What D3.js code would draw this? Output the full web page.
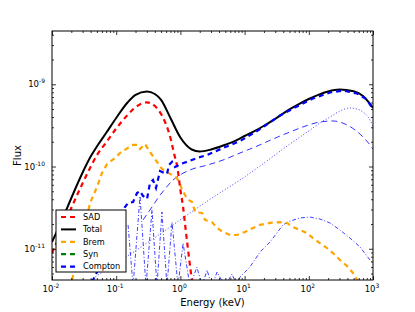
<!DOCTYPE html>
<html>
<head>
<meta charset="utf-8">
<script src="https://cdn.jsdelivr.net/npm/d3@7"></script>
<style>
  body { margin: 0; background: #fff; }
  svg { display: block; }
  text { font-family: "DejaVu Sans", sans-serif; }
</style>
</head>
<body>
<div id="chart"></div>
<script>
// ---- data (energy in keV, flux) ----
const totalE = [0.01, 0.015, 0.02, 0.03, 0.04, 0.05, 0.07, 0.1, 0.15, 0.2, 0.3, 0.4, 0.5, 0.7, 1, 1.5, 2, 3, 5, 7, 10, 15, 20, 30, 50, 70, 100, 150, 200, 300, 500, 700, 1000];
const totalF = [1.21e-11, 2.43e-11, 4.14e-11, 8.45e-11, 1.32e-10, 1.75e-10, 2.57e-10, 3.89e-10, 6.00e-10, 7.45e-10, 8.19e-10, 7.62e-10, 6.48e-10, 3.89e-10, 2.25e-10, 1.61e-10, 1.52e-10, 1.61e-10, 1.84e-10, 2.04e-10, 2.35e-10, 2.75e-10, 3.13e-10, 3.80e-10, 4.95e-10, 5.74e-10, 6.62e-10, 7.60e-10, 8.19e-10, 8.65e-10, 8.24e-10, 7.21e-10, 5.15e-10];

const sadE = [0.01, 0.015, 0.02, 0.03, 0.04, 0.05, 0.07, 0.1, 0.15, 0.2, 0.3, 0.4, 0.5, 0.7, 0.8, 0.9, 1, 1.1, 1.2, 1.3, 1.4, 1.5, 1.6];
const sadF = [8.87e-12, 1.82e-11, 3.13e-11, 6.27e-11, 9.93e-11, 1.37e-10, 1.97e-10, 2.89e-10, 4.23e-10, 5.26e-10, 6.03e-10, 5.44e-10, 4.35e-10, 2.22e-10, 1.42e-10, 9.59e-11, 5.18e-11, 3.22e-11, 1.79e-11, 1.05e-11, 6.53e-12, 4.29e-12, 2.74e-12];

const bremE = [0.0205, 0.0273, 0.0327, 0.0391, 0.0502, 0.0601, 0.072, 0.08, 0.0957, 0.1145, 0.1422, 0.183, 0.211, 0.235, 0.281, 0.336, 0.432, 0.516, 0.618, 0.74, 0.885, 1.06, 1.27, 1.52, 1.69, 2.17, 2.42, 3.1, 3.72, 4.61, 5.93, 7.62, 10.1, 13.5, 17.4, 24.9, 35.6, 45.7, 56.7, 72.9, 93.7, 116, 149, 192, 238, 306, 394, 488, 583];
const bremF = [4.17e-12, 1.02e-11, 1.95e-11, 3.6e-11, 5.64e-11, 8.34e-11, 1.07e-10, 1.14e-10, 1.27e-10, 1.46e-10, 1.63e-10, 1.83e-10, 1.83e-10, 1.63e-10, 1.88e-10, 1.5e-10, 1.14e-10, 9.33e-11, 8.57e-11, 7.89e-11, 7.24e-11, 5.33e-11, 4.03e-11, 3.7e-11, 2.8e-11, 2.72e-11, 2.24e-11, 2.11e-11, 1.79e-11, 1.6e-11, 1.47e-11, 1.47e-11, 1.6e-11, 1.79e-11, 1.95e-11, 2.06e-11, 2.11e-11, 2.06e-11, 1.84e-11, 1.69e-11, 1.55e-11, 1.35e-11, 1.17e-11, 1.02e-11, 8.87e-12, 7.3e-12, 6.17e-12, 5.07e-12, 4.06e-12];

// Syn does not reach the plotted flux range
const synE = [];
const synF = [];

const compE = [0.0364, 0.0502, 0.0669, 0.086, 0.107, 0.137, 0.153, 0.183, 0.211, 0.235, 0.262, 0.302, 0.336, 0.374, 0.417, 0.481, 0.556, 0.618, 0.664, 0.74, 0.824, 0.986, 1.27, 1.81, 2.6, 4.61, 8.48, 15.6, 35.6, 65.5, 116, 214, 341, 563, 807, 1000];
const compF = [3.15e-12, 5.21e-12, 9.12e-12, 1.35e-11, 1.89e-11, 3.22e-11, 3.6e-11, 3.7e-11, 4.76e-11, 5.04e-11, 4.38e-11, 4.03e-11, 6.31e-11, 6.86e-11, 5.48e-11, 8.81e-11, 8.34e-11, 8.11e-11, 1.04e-10, 1.14e-10, 9.86e-11, 1.07e-10, 1.14e-10, 1.27e-10, 1.38e-10, 1.68e-10, 2.04e-10, 2.7e-10, 4.17e-10, 5.37e-10, 6.71e-10, 7.94e-10, 8.4e-10, 7.73e-10, 6.53e-10, 4.93e-10];

// Compton scattering orders (thin blue lines)
const comp1E = [0.2615, 0.361, 0.448, 0.575, 0.74, 0.986, 1.41, 2.6, 4.61, 8.48, 15.6, 27.7, 50.9, 81.2, 149, 238, 394, 628, 898, 1000];
const comp1F = [2.24e-11, 3.22e-11, 4.14e-11, 5.33e-11, 6.67e-11, 7.89e-11, 9.08e-11, 1.04e-10, 1.2e-10, 1.46e-10, 1.77e-10, 2.16e-10, 2.63e-10, 3.03e-10, 3.48e-10, 3.58e-10, 3.2e-10, 2.48e-10, 1.83e-10, 1.63e-10];

const comp2E = [0.0364, 0.08, 0.176, 0.481, 1.41, 3.46, 8.48, 22.3, 50.9, 81.2, 116, 149, 214, 306, 438, 563, 698, 836, 1000];
const comp2F = [3.94e-12, 6e-12, 8.87e-12, 1.51e-11, 2.72e-11, 4.38e-11, 6.86e-11, 1.17e-10, 1.88e-10, 2.42e-10, 2.94e-10, 3.38e-10, 4e-10, 4.73e-10, 5.15e-10, 5e-10, 4.6e-10, 4e-10, 3.11e-10];

const comp3E = [0.153, 0.183, 0.235, 0.291, 0.361, 0.432, 0.516, 0.618, 0.74, 0.918, 1.1, 1.41, 1.81, 2.17, 2.6, 3.1, 3.72, 4.95, 6.37, 7.62, 8.48, 12.1, 17.4, 24.9, 39.6, 50.9, 72.9, 104, 149, 214, 306, 438, 628, 898, 1000];
const comp3F = [1.95e-11, 3.5e-12, 4.38e-11, 3.5e-12, 2.96e-11, 3.5e-12, 2.8e-11, 3.5e-12, 2.11e-11, 3.5e-12, 1.17e-11, 3.5e-12, 6e-12, 3.5e-12, 5.52e-12, 3.5e-12, 5.21e-12, 3.5e-12, 4.93e-12, 3.5e-12, 4.53e-12, 6e-12, 9.12e-12, 1.21e-11, 1.95e-11, 2.17e-11, 2.37e-11, 2.43e-11, 2.3e-11, 2.06e-11, 1.69e-11, 1.35e-11, 1.05e-11, 7.3e-12, 6.71e-12];

const xTickExps = [-2, -1, 0, 1, 2, 3];
const yTickExps = [-11, -10, -9];
const legendNames = ['SAD', 'Total', 'Brem', 'Syn', 'Compton'];

// ---- layout ----
const W = 415, H = 312;
const m = { top: 31, right: 42, bottom: 32, left: 52 };

const x = d3.scaleLog().domain([1e-2, 1e3]).range([m.left, W - m.right]);
const y = d3.scaleLog().domain([Math.pow(10, -11.38), Math.pow(10, -8.352)]).range([H - m.bottom, m.top]);

const svg = d3.select('#chart').append('svg')
  .attr('width', W)
  .attr('height', H);

svg.append('defs').append('clipPath').attr('id', 'plot-clip')
  .append('rect')
  .attr('x', m.left).attr('y', m.top)
  .attr('width', W - m.left - m.right)
  .attr('height', H - m.top - m.bottom);

const zip = (E, F) => E.map((e, i) => [e, F[i]]);
const line = d3.line().x(d => x(d[0])).y(d => y(d[1]));

const series = [
  { data: zip(comp2E, comp2F), color: '#0000ff', width: 1, dash: '1,2', opacity: 0.75, curve: d3.curveMonotoneX },
  { data: zip(comp3E, comp3F), color: '#0000ff', width: 1, dash: '4,2,1,2', opacity: 0.75, curve: d3.curveLinear },
  { data: zip(comp1E, comp1F), color: '#0000ff', width: 1, dash: '6,4', opacity: 0.8, curve: d3.curveMonotoneX },
  { data: zip(bremE, bremF), color: '#ffa500', width: 2.2, dash: '5,4', opacity: 1, curve: d3.curveLinear },
  { data: zip(synE, synF), color: '#008000', width: 2.2, dash: '5,4', opacity: 1, curve: d3.curveLinear },
  { data: zip(sadE, sadF), color: '#ff0000', width: 2.2, dash: '5,4', opacity: 1, curve: d3.curveMonotoneX },
  { data: zip(totalE, totalF), color: '#000000', width: 2, dash: null, opacity: 1, curve: d3.curveMonotoneX },
  { data: zip(compE, compF), color: '#0000ff', width: 2.2, dash: '5,4', opacity: 1, curve: d3.curveLinear }
];

const plot = svg.append('g').attr('clip-path', 'url(#plot-clip)');
series.forEach(s => {
  if (!s.data.length) return;
  plot.append('path')
    .datum(s.data)
    .attr('fill', 'none')
    .attr('stroke', s.color)
    .attr('stroke-width', s.width)
    .attr('stroke-opacity', s.opacity)
    .attr('stroke-dasharray', s.dash)
    .attr('d', line.curve(s.curve));
});

// ---- axes: inward ticks on all four sides ----
const minorOf = (exps, dom) => exps.concat([exps[0] - 1])
  .flatMap(e => d3.range(2, 10).map(k => k * Math.pow(10, e)))
  .filter(v => v > dom[0] && v < dom[1]);

const xMajor = xTickExps.map(e => Math.pow(10, e));
const yMajor = yTickExps.map(e => Math.pow(10, e));
const xMinor = minorOf(xTickExps, x.domain());
const yMinor = minorOf(yTickExps.concat([-8]), y.domain());

function addAxis(axisFn, scale, ticks, size, transform) {
  const g = svg.append('g')
    .attr('transform', transform)
    .call(axisFn(scale).tickValues(ticks).tickSize(-size).tickFormat(''));
  g.select('.domain').remove();
  g.selectAll('line').attr('stroke', '#000').attr('stroke-width', 0.8);
}

[[xMajor, 4], [xMinor, 2]].forEach(([t, s]) => {
  addAxis(d3.axisBottom, x, t, s, `translate(0,${H - m.bottom})`);
  addAxis(d3.axisTop, x, t, s, `translate(0,${m.top})`);
});
[[yMajor, 4], [yMinor, 2]].forEach(([t, s]) => {
  addAxis(d3.axisLeft, y, t, s, `translate(${m.left},0)`);
  addAxis(d3.axisRight, y, t, s, `translate(${W - m.right},0)`);
});

svg.append('rect')
  .attr('x', m.left).attr('y', m.top)
  .attr('width', W - m.left - m.right)
  .attr('height', H - m.top - m.bottom)
  .attr('fill', 'none')
  .attr('stroke', '#000')
  .attr('stroke-width', 1);

// tick labels as 10^n
function powLabel(g, e) {
  g.append('tspan').text('10');
  g.append('tspan').attr('dy', -4).attr('font-size', 6).text(e);
}

xTickExps.forEach(e => {
  const t = svg.append('text')
    .attr('x', x(Math.pow(10, e)) - 1)
    .attr('y', H - m.bottom + 12)
    .attr('text-anchor', 'middle')
    .attr('font-size', 8.5)
    .attr('fill', '#000');
  powLabel(t, e);
});

yTickExps.forEach(e => {
  const t = svg.append('text')
    .attr('x', m.left - 7)
    .attr('y', y(Math.pow(10, e)) + 3)
    .attr('text-anchor', 'end')
    .attr('font-size', 8.5)
    .attr('fill', '#000');
  powLabel(t, e);
});

// axis titles
svg.append('text')
  .attr('x', (m.left + W - m.right) / 2)
  .attr('y', H - 6)
  .attr('text-anchor', 'middle')
  .attr('font-size', 10)
  .text('Energy (keV)');

svg.append('text')
  .attr('transform', `translate(17,${(m.top + H - m.bottom) / 2}) rotate(-90)`)
  .attr('text-anchor', 'middle')
  .attr('dy', '0.35em')
  .attr('font-size', 10)
  .text('Flux');

// ---- legend ----
const legendStyles = [series[5], series[6], series[3], series[4], series[7]];
const legend = svg.append('g').attr('transform', 'translate(56,210)');
legend.append('rect')
  .attr('width', 70).attr('height', 62)
  .attr('fill', '#fff')
  .attr('stroke', '#000')
  .attr('stroke-width', 1);

legendNames.forEach((name, i) => {
  const s = legendStyles[i];
  const row = legend.append('g').attr('transform', `translate(0,${7 + i * 12.4})`);
  row.append('line')
    .attr('x1', 5).attr('x2', 20)
    .attr('stroke', s.color)
    .attr('stroke-width', s.width)
    .attr('stroke-dasharray', s.dash);
  row.append('text')
    .attr('x', 27)
    .attr('dy', '0.35em')
    .attr('font-size', 8.2)
    .text(name);
});
</script>
</body>
</html>
